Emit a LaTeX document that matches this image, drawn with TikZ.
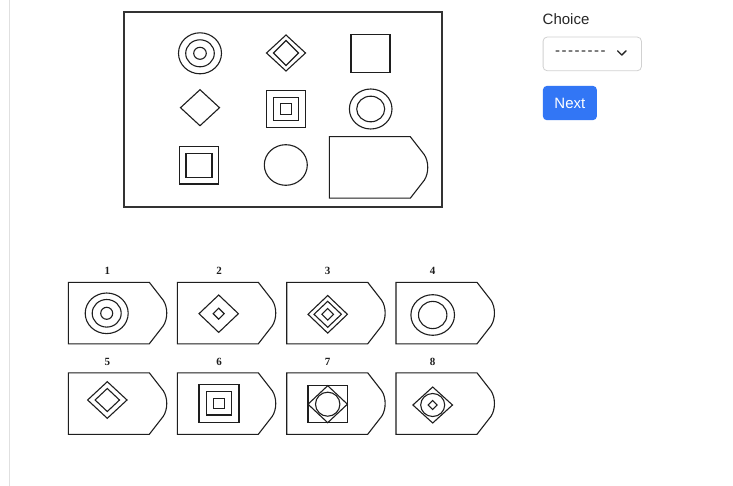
\documentclass[tikz,border=0pt]{standalone}
\usepackage{fontspec}
\newfontfamily\uifont{Liberation Sans}
\newfontfamily\numfont{Liberation Serif}
\definecolor{btnblue}{RGB}{50,118,245}
\definecolor{ink}{RGB}{30,30,30}
\newcommand\dmd[4]{\draw[fig,shift={(#1,#2)}] (-#3,0) -- (0,-#4) -- (#3,0) -- (0,#4) -- cycle;}
\newcommand\sqr[4]{\draw[fig,shift={(#1,#2)}] (-#3,-#4) rectangle (#3,#4);}
\newcommand\myell[4]{\draw[fig] (#1,#2) ellipse [x radius=#3, y radius=#4];}
\begin{document}
\begin{tikzpicture}[x=1pt,y=-1pt,
  fig/.style={line width=1.1pt, draw=ink},
  shield/.pic={\draw[fig] (0,0) -- (81,0) -- (95,18) .. controls (99.6,25) and (99.6,36.5) .. (95,43.5) -- (81,61.5) -- (0,61.5) -- cycle;},
  numlab/.style={font=\numfont\bfseries\fontsize{11}{13}\selectfont, text=ink, inner sep=0pt}]
\useasboundingbox (0,0) rectangle (733,486);
\fill[white] (0,0) rectangle (733,486);
\draw[black!12, line width=1pt] (9.5,0) -- (9.5,486);
% question frame
\draw[fig, line width=1.2pt, draw=black!80] (124,12) rectangle (442,207);
% row 1
\myell{200}{53.3}{21.5}{20.5}
\myell{200}{53.3}{14.3}{13.5}
\myell{200}{53.3}{6.3}{6}
\dmd{286}{53}{19.5}{18}
\dmd{286}{53}{12.5}{12.5}
\sqr{370.5}{53.5}{19.5}{18.7}
% row 2
\dmd{200}{107.7}{19.5}{18}
\sqr{286}{109}{19.5}{18.5}
\sqr{286}{109}{12.8}{11.8}
\sqr{286}{109}{5.2}{5.2}
\myell{370.7}{109}{21.3}{20}
\myell{370.7}{109}{14}{12.8}
% row 3
\sqr{199}{165.3}{19.8}{18.7}
\sqr{199}{165.3}{13}{12}
\myell{285.8}{165}{21.5}{20.3}
\pic at (329.3,136.7) {shield};
% answer panels
\foreach \x in {68.3,177.3,286.7,396}{
  \pic at (\x,282.3) {shield};
  \pic at (\x,372.8) {shield};
}
\node[numlab] (n1) at (107.3,270.7) {1};
\node[numlab] (n2) at (219,271.2) {2};
\node[numlab] (n3) at (327.7,271.2) {3};
\node[numlab] (n4) at (432.7,271.2) {4};
\node[numlab] (n5) at (107.3,361.8) {5};
\node[numlab] (n6) at (219,362.2) {6};
\node[numlab] (n7) at (327.7,362.2) {7};
\node[numlab] (n8) at (432.7,362.2) {8};
% 1
\myell{106.7}{313.3}{21.5}{20.3}
\myell{106.7}{313.3}{14.5}{13.8}
\myell{106.7}{313.3}{6}{6}
% 2
\dmd{218.7}{313.7}{19.7}{18.7}
\dmd{218.7}{313.7}{5.5}{5.5}
% 3
\dmd{327.7}{314.3}{19.7}{18.8}
\dmd{327.7}{314.3}{13.7}{13}
\dmd{327.7}{314.3}{5.8}{5.8}
% 4
\myell{432.7}{315}{21.8}{20.3}
\myell{432.7}{315}{14.2}{13.6}
% 5
\dmd{107.3}{400}{19.7}{18.3}
\dmd{107.3}{400}{12.2}{11.5}
% 6
\sqr{219}{403.3}{20}{19}
\sqr{219}{403.3}{12.8}{11.7}
\sqr{219}{403.3}{5.2}{5}
% 7
\sqr{327.7}{404.2}{19.7}{18.5}
\dmd{327.7}{404.2}{19.7}{18.5}
\myell{327.7}{404.2}{12.2}{12}
% 8
\dmd{432.7}{405}{19.8}{18}
\myell{432.7}{405}{12}{11.5}
\dmd{432.7}{405}{4.5}{4.5}
% UI
\node[anchor=west, inner sep=0pt, font=\uifont\fontsize{15}{18}\selectfont, text=black!85] (choice) at (542.5,19) {Choice};
\node[draw=black!18, line width=0.8pt, rounded corners=4pt, fill=white, anchor=north west, minimum width=98.3pt, minimum height=33.6pt, inner sep=0pt] (sel) at (542.7,36.7) {};
\node[anchor=west, inner sep=0pt, font=\uifont\fontsize{15}{18}\selectfont\addfontfeature{LetterSpace=10}, text=black!85] (dash) at (555,53) {--------};
\draw[black!85, line width=1.3pt, line cap=round, line join=round] (617.5,50.8) -- (621.8,55.1) -- (626.1,50.8);
\node[fill=btnblue, rounded corners=4pt, anchor=north west, minimum width=54pt, minimum height=34.3pt, inner sep=0pt, text=white, font=\uifont\fontsize{15}{18}\selectfont] (next) at (542.7,85.7) {Next};
\end{tikzpicture}
\end{document}
